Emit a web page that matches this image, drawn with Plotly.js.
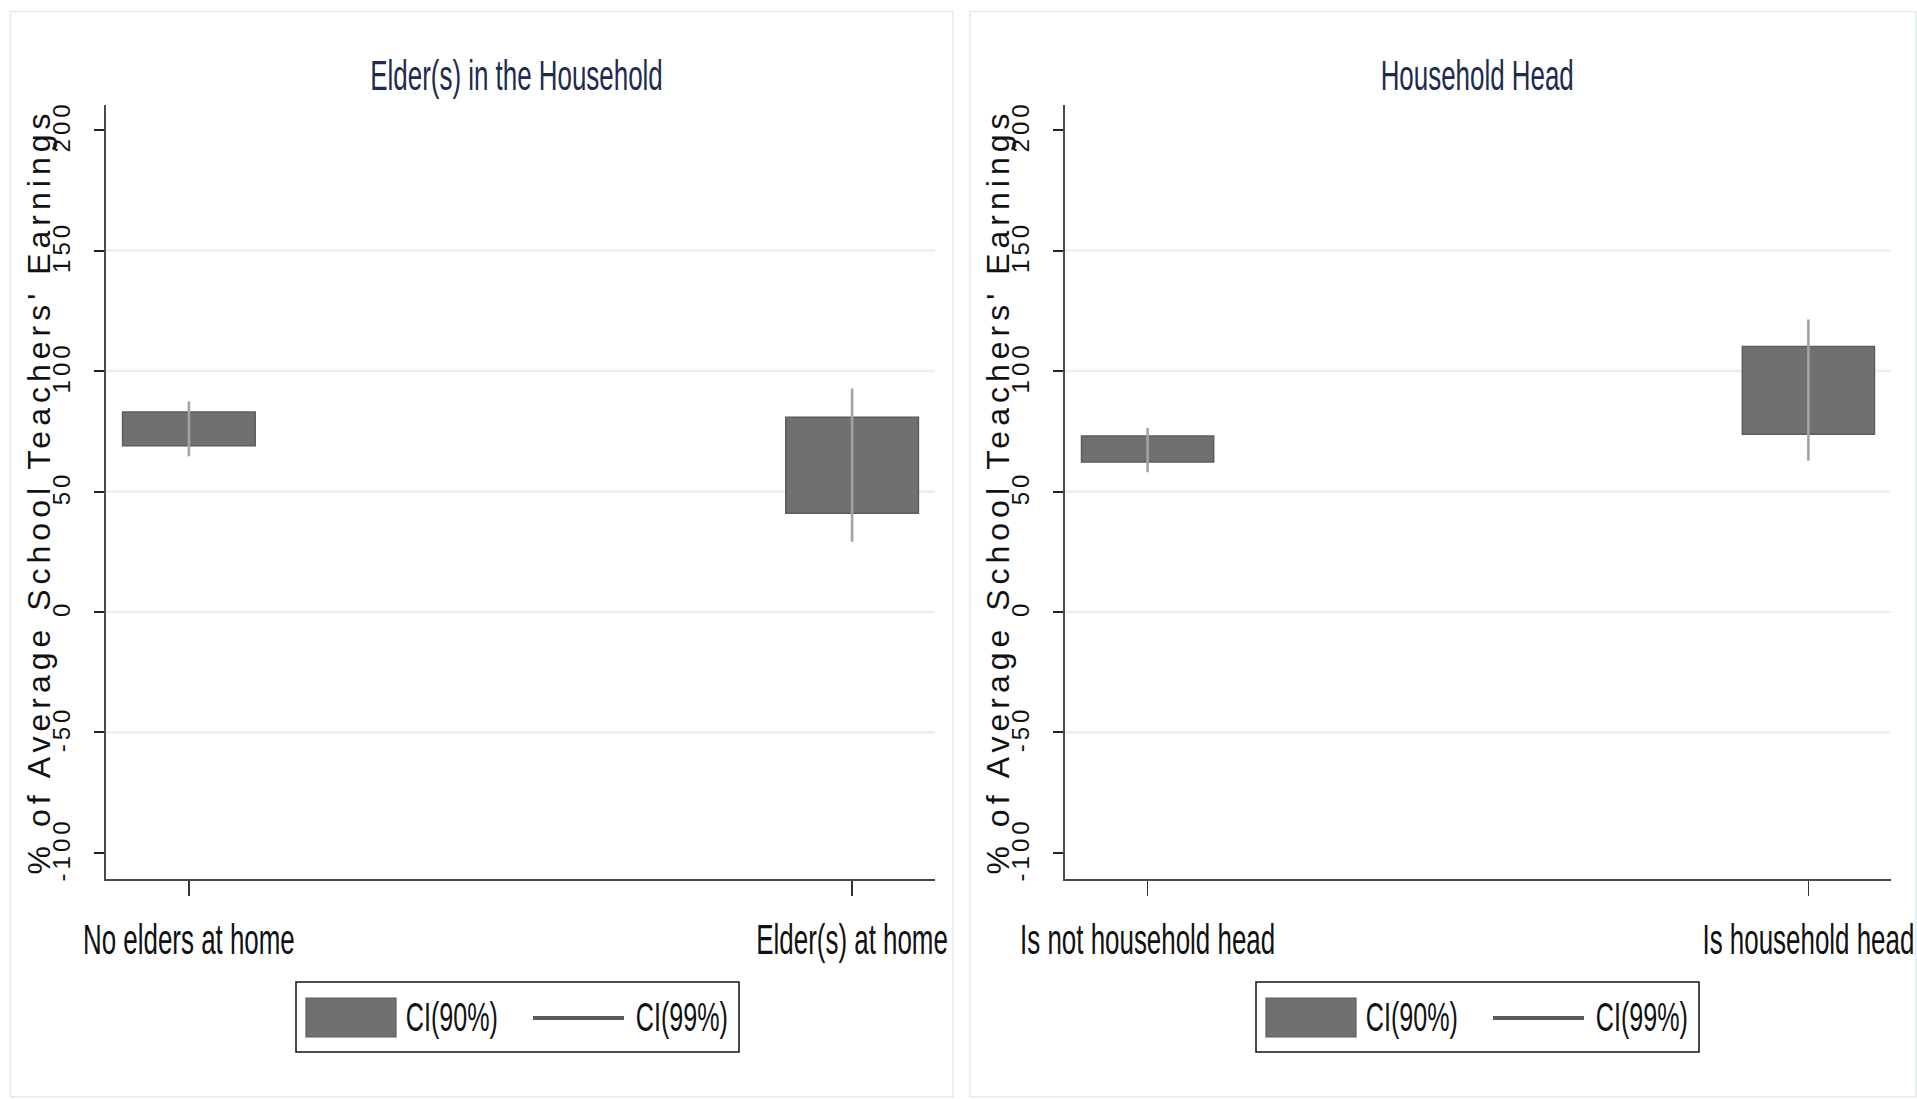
<!DOCTYPE html>
<html>
<head>
<meta charset="utf-8">
<script src="https://cdn.plot.ly/plotly-3.0.1.min.js"></script>
<style>
  html, body { margin: 0; padding: 0; background: #ffffff; }
  #chart { width: 1917px; height: 1099px; }
  .ytick text, .y2tick text { letter-spacing: 4px; }
  .ytitle, .y2title { letter-spacing: 5px; }
</style>
</head>
<body>
<div id="chart"></div>
<script>
// ---------------- DATA ----------------
const eldersTitle = 'Elder(s) in the Household';
const eldersCategories = ['No elders at home', 'Elder(s) at home'];
const eldersCi90Low  = [69.0, 41.0];
const eldersCi90High = [83.0, 80.8];
const eldersCi99Low  = [64.6, 29.1];
const eldersCi99High = [87.4, 92.7];

const headTitle = 'Household Head';
const headCategories = ['Is not household head', 'Is household head'];
const headCi90Low  = [62.2, 73.8];
const headCi90High = [73.0, 110.2];
const headCi99Low  = [58.0, 62.8];
const headCi99High = [76.4, 121.4];

const yTickVals = [-100, -50, 0, 50, 100, 150, 200];
const yTickText = ['-100', '-50', '0', '50', '100', '150', '200'];
const gridVals = [-50, 0, 50, 100, 150];
const yRange = [-110.6, 210.6];
const yTitle = "% of Average School Teachers' Earnings";
const legendLabels = ['CI(90%)', 'CI(99%)'];

// ---------------- STYLE ----------------
const W = 1917, H = 1099;
const px = v => v / W;
const py = v => 1 - v / H;
const FONT = 'Liberation Sans, Arial, Helvetica, sans-serif';
const SX = 0.81, SY = 1.31;
const barFill = '#707070', barEdge = '#5c5c5c';
const whiskerColor = '#a3a3a3';
const legendLineColor = '#5a5a5a';
const gridColor = '#e6eff1';
const axisColor = '#4a4a4a';
const titleColor = '#1d2b50';

function panelTraces(cats, lo90, hi90, lo99, hi99, xa, ya) {
  const bars = {
    type: 'bar', x: cats, base: lo90, y: hi90.map((h, i) => h - lo90[i]),
    width: 0.2, xaxis: xa, yaxis: ya,
    marker: { color: barFill, line: { color: barEdge, width: 1.5 } },
    name: legendLabels[0], showlegend: false, hoverinfo: 'skip'
  };
  const wx = [], wy = [];
  cats.forEach((c, i) => { wx.push(c, c, null); wy.push(lo99[i], hi99[i], null); });
  const whiskers = {
    type: 'scatter', mode: 'lines', x: wx, y: wy, xaxis: xa, yaxis: ya,
    line: { color: whiskerColor, width: 2.6 }, connectgaps: false,
    name: legendLabels[1], showlegend: false, hoverinfo: 'skip'
  };
  return [bars, whiskers];
}

const data = [
  ...panelTraces(eldersCategories, eldersCi90Low, eldersCi90High, eldersCi99Low, eldersCi99High, 'x', 'y'),
  ...panelTraces(headCategories, headCi90Low, headCi90High, headCi99Low, headCi99High, 'x2', 'y2')
];

function xAxis(domain, anchor, cats) {
  return {
    domain: domain, anchor: anchor, type: 'category',
    categoryorder: 'array', categoryarray: cats,
    range: [-0.125, 1.125], fixedrange: true,
    showline: true, linecolor: axisColor, linewidth: 2,
    ticks: 'outside', ticklen: 15, tickwidth: 1.5, tickcolor: '#333',
    showgrid: false, zeroline: false,
    tickfont: { family: FONT, size: 32, color: '#111' },
    ticklabelstandoff: 17
  };
}
function yAxis(domain, anchor) {
  return {
    domain: domain, anchor: anchor, range: yRange, fixedrange: true,
    tickmode: 'array', tickvals: yTickVals, ticktext: yTickText,
    tickangle: -90,
    showline: true, linecolor: axisColor, linewidth: 2,
    ticks: 'outside', ticklen: 10, tickwidth: 2, tickcolor: '#222',
    showgrid: false, zeroline: false,
    tickfont: { family: FONT, size: 24, color: '#111' },
    ticklabelstandoff: 14,
    title: { text: yTitle, font: { family: FONT, size: 32, color: '#111' }, standoff: 0 }
  };
}

const plotTop = 104.5, plotBottom = 878.5;
const leftX = [106, 935], rightX = [1065, 1891];

const shapes = [];
// panel frames
[[10.5, 953], [970, 1916]].forEach(([a, b]) => {
  shapes.push({ type: 'rect', xref: 'paper', yref: 'paper', x0: px(a), x1: px(b), y0: py(1097), y1: py(11.5),
    line: { color: '#e2ebee', width: 1.5 }, fillcolor: 'rgba(0,0,0,0)', layer: 'below' });
});
// gridlines
[['x', 'y'], ['x2', 'y2']].forEach(([xa, ya]) => {
  gridVals.forEach(g => {
    shapes.push({ type: 'line', xref: xa + ' domain', yref: ya, x0: 0, x1: 1, y0: g, y1: g,
      line: { color: gridColor, width: 2.6 }, layer: 'below' });
  });
});

const annotations = [];
// panel titles
annotations.push({ text: eldersTitle, xref: 'paper', yref: 'paper', x: px(516), y: py(76), xanchor: 'center', yanchor: 'middle', showarrow: false,
  font: { family: FONT, size: 32, color: titleColor } });
annotations.push({ text: headTitle, xref: 'paper', yref: 'paper', x: px(1477), y: py(76), xanchor: 'center', yanchor: 'middle', showarrow: false,
  font: { family: FONT, size: 32, color: titleColor } });

// legends (one per panel)
[0, 960].forEach(off => {
  shapes.push({ type: 'rect', xref: 'paper', yref: 'paper', x0: px(296 + off), x1: px(739 + off), y0: py(1052), y1: py(982),
    line: { color: '#111', width: 1.5 }, fillcolor: '#ffffff' });
  shapes.push({ type: 'rect', xref: 'paper', yref: 'paper', x0: px(306 + off), x1: px(396 + off), y0: py(1037), y1: py(998),
    line: { color: barEdge, width: 1.2 }, fillcolor: barFill });
  shapes.push({ type: 'line', xref: 'paper', yref: 'paper', x0: px(533 + off), x1: px(624 + off), y0: py(1018), y1: py(1018),
    line: { color: legendLineColor, width: 4 } });
  annotations.push({ text: legendLabels[0], xref: 'paper', yref: 'paper', x: px(452 + off), y: py(1017), xanchor: 'center', yanchor: 'middle',
    showarrow: false, font: { family: FONT, size: 31, color: '#111' } });
  annotations.push({ text: legendLabels[1], xref: 'paper', yref: 'paper', x: px(682 + off), y: py(1017), xanchor: 'center', yanchor: 'middle',
    showarrow: false, font: { family: FONT, size: 31, color: '#111' } });
});

const layout = {
  width: W, height: H, margin: { l: 0, r: 0, t: 0, b: 0 }, autosize: false,
  showlegend: false, paper_bgcolor: '#ffffff', plot_bgcolor: 'rgba(0,0,0,0)',
  font: { family: FONT, color: '#111' },
  xaxis: xAxis([px(leftX[0]), px(leftX[1])], 'y', eldersCategories),
  yaxis: yAxis([py(plotBottom), py(plotTop)], 'x'),
  xaxis2: xAxis([px(rightX[0]), px(rightX[1])], 'y2', headCategories),
  yaxis2: yAxis([py(plotBottom), py(plotTop)], 'x2'),
  shapes: shapes, annotations: annotations
};

// stretch text about its own centre (parent coordinates)
function stretch(el, sx, sy) {
  try {
    const bb = el.getBBox();
    let cx = bb.x + bb.width / 2, cy = bb.y + bb.height / 2;
    const list = el.transform && el.transform.baseVal;
    if (list && list.numberOfItems > 0) {
      const m = list.consolidate().matrix;
      const nx = m.a * cx + m.c * cy + m.e;
      const ny = m.b * cx + m.d * cy + m.f;
      cx = nx; cy = ny;
    }
    const old = el.getAttribute('transform') || '';
    el.setAttribute('transform',
      'translate(' + cx + ',' + cy + ') scale(' + sx + ',' + sy + ') translate(' + (-cx) + ',' + (-cy) + ') ' + old);
  } catch (e) { /* ignore */ }
}
// move a text horizontally so that its box centre sits at targetX (page px)
function centreX(el, targetX) {
  try {
    const r = el.getBoundingClientRect();
    const dx = targetX - (r.left + r.width / 2);
    const old = el.getAttribute('transform') || '';
    el.setAttribute('transform', 'translate(' + dx + ',0) ' + old);
  } catch (e) { /* ignore */ }
}

Plotly.newPlot('chart', data, layout, { staticPlot: true, displayModeBar: false }).then(gd => {
  const q = s => Array.from(gd.querySelectorAll(s));
  q('.xtick text, .x2tick text').forEach(el => stretch(el, SX, SY));
  q('.annotation-text').forEach(el => stretch(el, SX, SY));
  q('.ytitle').forEach(el => centreX(el, leftX[0] - 67));
  q('.y2title').forEach(el => centreX(el, rightX[0] - 67));
});
</script>
</body>
</html>
